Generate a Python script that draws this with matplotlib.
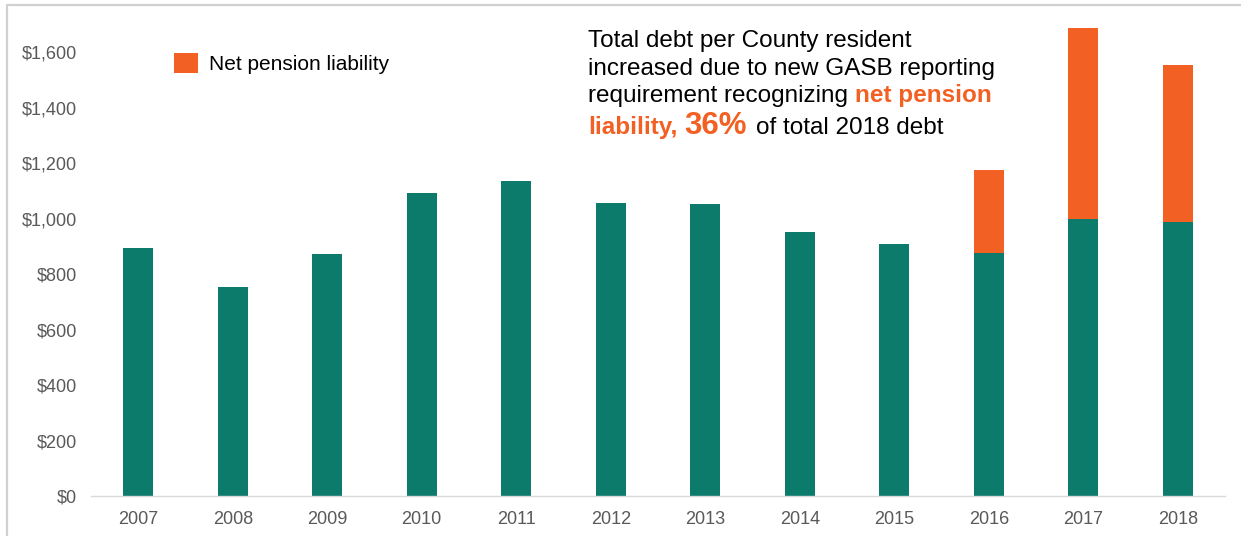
import matplotlib
matplotlib.use("Agg")
import matplotlib.pyplot as plt
from matplotlib.lines import Line2D
from matplotlib.transforms import IdentityTransform
import numpy as np

plt.rcParams['font.family'] = ['Liberation Sans', 'DejaVu Sans']

years = ['2007', '2008', '2009', '2010', '2011', '2012',
         '2013', '2014', '2015', '2016', '2017', '2018']
debt_excl_pension = [893, 752, 871, 1092, 1135, 1056, 1052, 951, 907, 875, 997, 987]
net_pension = [0, 0, 0, 0, 0, 0, 0, 0, 0, 300, 689, 565]
y_ticks = [0, 200, 400, 600, 800, 1000, 1200, 1400, 1600]

GREEN = '#0D7B6C'
ORANGE = '#F26023'
TICK_GREY = '#595959'

W, H = 1241, 536
fig = plt.figure(figsize=(W / 100, H / 100), dpi=100)
ax = fig.add_axes([91 / W, 1 - 496 / H, (1225 - 91) / W, (496 - 24.3) / H])

x = np.arange(len(years))
ax.bar(x, debt_excl_pension, width=0.32, color=GREEN, linewidth=0)
ax.bar(x, net_pension, width=0.32, bottom=debt_excl_pension, color=ORANGE,
       linewidth=0, label='Net pension liability')

ax.set_xlim(-0.5, len(years) - 0.5)
ax.set_ylim(0, 1700)
ax.set_xticks(x)
ax.set_xticklabels(years)
ax.set_yticks(y_ticks)
ax.set_yticklabels([f'${v:,}' for v in y_ticks])
ax.tick_params(axis='both', length=0, labelsize=13, labelcolor=TICK_GREY)
ax.tick_params(axis='y', pad=10)
ax.tick_params(axis='x', pad=11)
for side in ('left', 'right', 'top'):
    ax.spines[side].set_visible(False)
ax.spines['bottom'].set_color('#D9D9D9')
ax.spines['bottom'].set_linewidth(1.0)

# Legend for the pension component only
leg = ax.legend(loc='upper left', bbox_to_anchor=(174 / W, 1 - 53 / H),
                bbox_transform=fig.transFigure, frameon=False, fontsize=15,
                handlelength=1.15, handleheight=1.1, handletextpad=0.55,
                borderpad=0, borderaxespad=0)

# Callout text, built piece by piece so that styles can change mid-line
renderer = fig.canvas.get_renderer()


def put_line(pieces, x0, baseline):
    cur = x0
    for s, size, weight, color, gap in pieces:
        t = fig.text(cur, H - baseline, s, transform=IdentityTransform(),
                     fontsize=size, fontweight=weight, color=color,
                     va='baseline', ha='left')
        cur = t.get_window_extent(renderer).x1 + gap


TXT = 17.5
put_line([('Total debt per County resident', TXT, 'normal', 'black', 0)], 588, 47)
put_line([('increased due to new GASB reporting', TXT, 'normal', 'black', 0)], 588, 75)
put_line([('requirement recognizing', TXT, 'normal', 'black', 7),
          ('net pension', TXT, 'bold', ORANGE, 0)], 588, 102)
put_line([('liability,', TXT, 'bold', ORANGE, 7),
          ('36%', 22.5, 'bold', ORANGE, 9),
          ('of total 2018 debt', TXT, 'normal', 'black', 0)], 588, 134)

# Thin frame along the top and left edges
fig.add_artist(Line2D([7, 7, W], [0, H - 5, H - 5], transform=IdentityTransform(),
                      color='#D0D0D0', linewidth=1.6))

fig.savefig('out.png', dpi=100)
